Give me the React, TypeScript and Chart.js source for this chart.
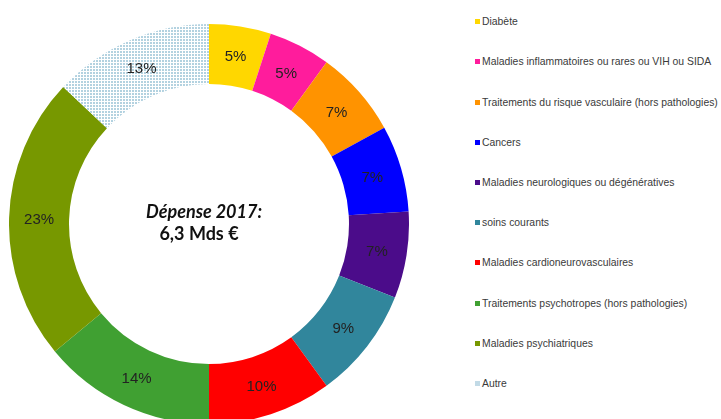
import React, { useEffect, useRef } from "react";
import { Chart, registerables } from "chart.js";

Chart.register(...registerables);

const categories = [
  "Diabète",
  "Maladies inflammatoires ou rares ou VIH ou SIDA",
  "Traitements du risque vasculaire (hors pathologies)",
  "Cancers",
  "Maladies neurologiques ou dégénératives",
  "soins courants",
  "Maladies cardioneurovasculaires",
  "Traitements psychotropes (hors pathologies)",
  "Maladies psychiatriques",
  "Autre",
];

const shares = [5, 5, 7, 7, 7, 9, 10, 14, 23, 13];

const colors = [
  "#FFD700",
  "#FF1C9C",
  "#FF9300",
  "#0000FF",
  "#4B0C8A",
  "#31869C",
  "#FF0000",
  "#40A032",
  "#779800",
  "PATTERN",
];

const centerLines = ["Dépense 2017:", "6,3 Mds €"];

function makePattern(): CanvasPattern | string {
  const c = document.createElement("canvas");
  c.width = 3;
  c.height = 3;
  const g = c.getContext("2d");
  if (!g) return "#C8DFEA";
  g.fillStyle = "#FFFFFF";
  g.fillRect(0, 0, 3, 3);
  g.fillStyle = "#B3D2E0";
  g.fillRect(0, 0, 2, 2);
  const p = g.createPattern(c, "repeat");
  return p || "#C8DFEA";
}

const labelPlugin = {
  id: "pctLabels",
  afterDatasetsDraw(chart: any) {
    const ctx = chart.ctx as CanvasRenderingContext2D;
    const meta = chart.getDatasetMeta(0);
    ctx.save();
    ctx.font = '15px "Liberation Sans", Arial, sans-serif';
    ctx.fillStyle = "#222222";
    ctx.textAlign = "center";
    ctx.textBaseline = "middle";
    meta.data.forEach((arc: any, i: number) => {
      const p = arc.tooltipPosition(false);
      ctx.fillText(`${shares[i]}%`, p.x, p.y + 1);
    });
    const first = meta.data[0];
    const cx = first.x;
    const cy = first.y;
    ctx.fillStyle = "#111111";
    ctx.font = 'italic bold 18px Lato, "Open Sans", sans-serif';
    ctx.fillText(centerLines[0], cx - 5, cy - 12);
    ctx.font = 'bold 18px Lato, "Open Sans", sans-serif';
    ctx.fillText(centerLines[1], cx - 10, cy + 10);
    ctx.restore();
  },
};

export default function App() {
  const ref = useRef<HTMLCanvasElement | null>(null);

  useEffect(() => {
    if (!ref.current) return;
    const pattern = makePattern();
    const bg = colors.map((c) => (c === "PATTERN" ? pattern : c));
    const chart = new Chart(ref.current, {
      type: "doughnut",
      data: {
        labels: categories,
        datasets: [
          {
            data: shares,
            backgroundColor: bg as any,
            borderWidth: 0,
            hoverOffset: 0,
          },
        ],
      },
      options: {
        responsive: false,
        animation: false,
        cutout: "70%",
        layout: { padding: 0 },
        plugins: {
          legend: { display: false },
          tooltip: { enabled: false },
        },
      },
      plugins: [labelPlugin],
    });
    return () => chart.destroy();
  }, []);

  const firstRow = 21.7;
  const rowStep = 40.2;

  return (
    <div
      style={{
        position: "fixed",
        left: 0,
        top: 0,
        width: 721,
        height: 419,
        overflow: "hidden",
        background: "#ffffff",
      }}
    >
      <canvas
        ref={ref}
        width={400}
        height={400}
        style={{ position: "absolute", left: 9, top: 24, width: 400, height: 400 }}
      />
      {categories.map((name, i) => (
        <div
          key={name}
          style={{
            position: "absolute",
            left: 475,
            top: firstRow + i * rowStep - 7,
            height: 14,
            display: "flex",
            alignItems: "center",
            whiteSpace: "nowrap",
            fontFamily: '"Liberation Sans", Arial, sans-serif',
            fontSize: 10.4,
            color: "#3a3a3a",
          }}
        >
          <span
            style={{
              display: "inline-block",
              width: 5,
              height: 5,
              marginRight: 2,
              background:
                colors[i] === "PATTERN" ? "#C2DAE6" : colors[i],
            }}
          />
          <span>{name}</span>
        </div>
      ))}
    </div>
  );
}
